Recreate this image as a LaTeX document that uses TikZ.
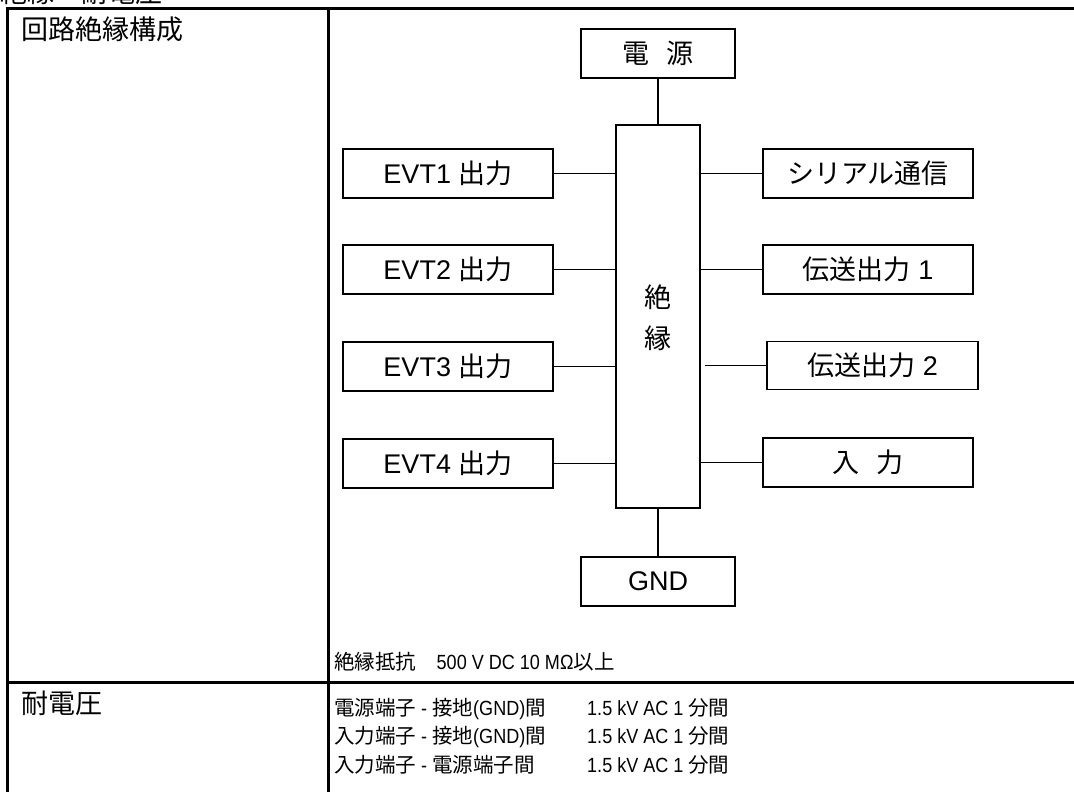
\documentclass[tikz,border=0pt]{standalone}
\usepackage{fontspec}
\setmainfont{Liberation Sans}
\newfontfamily\jp{Noto Sans CJK JP}
\newfontfamily\latn{Liberation Sans}[FakeStretch=0.88]
\usetikzlibrary{calc}
\newcommand\J[1]{{\jp #1}}
\begin{document}
\begin{tikzpicture}[x=1pt,y=-1pt,
  box/.style={draw,line width=1.8pt,minimum width=210pt,minimum height=49pt,inner sep=0pt,font=\fontsize{27}{32}\selectfont},
  wire/.style={line width=1.5pt},
  rule/.style={line width=3pt},
  head/.style={inner sep=0pt,anchor=base west,font=\jp\fontsize{27}{32}\selectfont},
  body/.style={inner sep=0pt,anchor=base west,font=\latn\fontsize{20.5}{24}\selectfont}]
\useasboundingbox (0,0) rectangle (1074,792);
\clip (0,0) rectangle (1074,792);
% clipped title
\node[head] (title) at (0,3) {絶縁・耐電圧};
% table rules
\draw[rule] (1090,9) -- (7,9) -- (7,800);
\draw[rule] (328,9) -- (328,800);
\draw[rule] (7,682) -- (1090,682);
% table texts
\node[head] (h1) at (21,40) {回路絶縁構成};
\node[head] (h2) at (21,713) {耐電圧};
\node[body] (ins) at (334,669) {\J{絶縁抵抗　}500 V DC 10 MΩ\J{以上}};
\node[body] (r1a) at (334,715) {\J{電源端子} - \J{接地}(GND)\J{間}};
\node[body] (r1b) at (587,715) {1.5 kV AC 1 \J{分間}};
\node[body] (r2a) at (334,743) {\J{入力端子} - \J{接地}(GND)\J{間}};
\node[body] (r2b) at (587,743) {1.5 kV AC 1 \J{分間}};
\node[body] (r3a) at (334,772) {\J{入力端子} - \J{電源端子間}};
\node[body] (r3b) at (587,772) {1.5 kV AC 1 \J{分間}};
% diagram
\node[box,minimum width=154pt] (pwr) at (658,53.5) {\J{電\hspace{17pt}源}};
\node[draw,line width=1.8pt,minimum width=84pt,minimum height=383pt,inner sep=0pt] (iso) at (658,316.5) {};
\node[font=\jp\fontsize{27}{32}\selectfont,inner sep=0pt] (iso1) at (658,297) {絶};
\node[font=\jp\fontsize{27}{32}\selectfont,inner sep=0pt] (iso2) at (658,338) {縁};
\node[box,minimum width=154pt] (gnd) at (658,581.5) {GND};
\node[box] (evt1) at (448,173.5) {EVT1 \J{出力}};
\node[box] (evt2) at (448,269.5) {EVT2 \J{出力}};
\node[box] (evt3) at (448,366.5) {EVT3 \J{出力}};
\node[box] (evt4) at (448,463.5) {EVT4 \J{出力}};
\node[box] (ser) at (868,173.5) {\J{シリアル通信}};
\node[box] (out1) at (868,269.5) {\J{伝送出力} 1};
\node[box,minimum width=211pt,minimum height=48pt] (out2) at (872.5,365.5) {\J{伝送出力} 2};
\node[box] (inp) at (868,462.5) {\J{入\hspace{17pt}力}};
% connectors
\draw[wire] (pwr) -- (iso);
\draw[wire] (iso) -- (gnd);
\draw[wire] (evt1.east) -- (evt1.east -| iso.west);
\draw[wire] (evt2.east) -- (evt2.east -| iso.west);
\draw[wire] (evt3.east) -- (evt3.east -| iso.west);
\draw[wire] (evt4.east) -- (evt4.east -| iso.west);
\draw[wire] (ser.west) -- (ser.west -| iso.east);
\draw[wire] (out1.west) -- (out1.west -| iso.east);
\coordinate (o2s) at ($(out2.west -| iso.east)+(4,0)$);
\draw[wire] (out2.west) -- (o2s);
\draw[wire] (inp.west) -- (inp.west -| iso.east);
\end{tikzpicture}
\end{document}
